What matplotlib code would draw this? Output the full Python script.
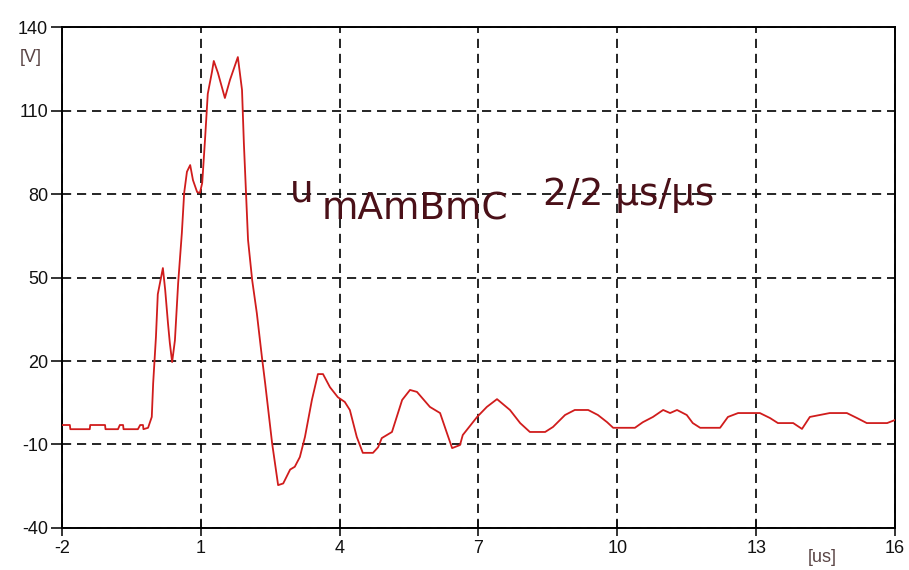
import matplotlib
matplotlib.use("Agg")
import matplotlib.pyplot as plt

# time axis [us] and voltage [V]
time_us = [-2.0, -1.83, -1.82, -1.40, -1.39, -1.07, -1.06, -0.79, -0.75, -0.68, -0.67,
           -0.36, -0.31, -0.25, -0.24, -0.14, -0.06, -0.03, 0.03, 0.07, 0.18, 0.23,
           0.29, 0.33, 0.38, 0.44, 0.51, 0.59, 0.64, 0.70, 0.77, 0.83, 0.92, 0.98,
           1.03, 1.09, 1.15, 1.24, 1.28, 1.37, 1.52, 1.63, 1.80, 1.89, 1.93, 2.02,
           2.11, 2.21, 2.32, 2.39, 2.54, 2.67, 2.78, 2.93, 3.03, 3.14, 3.25, 3.40,
           3.53, 3.64, 3.79, 3.96, 4.11, 4.22, 4.37, 4.50, 4.72, 4.83, 4.91, 5.13,
           5.35, 5.52, 5.67, 5.95, 6.17, 6.32, 6.43, 6.60, 6.66, 6.97, 7.18, 7.40,
           7.68, 7.90, 8.11, 8.44, 8.61, 8.87, 9.08, 9.37, 9.58, 9.78, 9.91, 10.38,
           10.55, 10.77, 10.99, 11.14, 11.29, 11.50, 11.63, 11.79, 12.22, 12.39,
           12.61, 13.08, 13.30, 13.47, 13.80, 13.99, 14.16, 14.59, 14.96, 15.18,
           15.39, 15.83, 16.0]
voltage = [-3.0, -3.0, -4.5, -4.5, -3.0, -3.0, -4.5, -4.5, -3.0, -3.0, -4.5,
           -4.5, -3.0, -3.0, -4.5, -4.0, -0.1, 12.0, 28.6, 44.0, 53.4, 45.5,
           33.6, 26.5, 19.6, 27.4, 48.0, 66.0, 80.4, 88.0, 90.4, 85.0, 80.7, 80.4,
           84.0, 99.4, 116.0, 123.8, 127.8, 123.5, 114.5, 121.0, 129.2, 117.4, 98.3, 63.5,
           49.0, 37.2, 21.4, 12.0, -9.5, -24.6, -24.0, -19.0, -18.0, -14.5, -7.3, 6.0,
           15.3, 15.3, 10.6, 7.0, 5.3, 2.4, -7.3, -13.0, -13.0, -11.0, -7.7, -5.5,
           6.0, 9.6, 8.9, 3.5, 1.3, -6.0, -11.3, -10.2, -6.6, -0.1, 3.5, 6.3,
           2.4, -2.3, -5.5, -5.5, -3.7, 0.6, 2.4, 2.4, 0.6, -2.0, -4.0, -4.0,
           -2.0, -0.1, 2.4, 1.3, 2.4, 0.6, -2.3, -4.0, -4.0, -0.1,
           1.3, 1.3, -0.5, -2.3, -2.3, -4.4, -0.1, 1.3, 1.3, -0.5,
           -2.3, -2.3, -1.2]

x_ticks = [-2, 1, 4, 7, 10, 13, 16]
y_ticks = [-40, -10, 20, 50, 80, 110, 140]

plt.rcParams['font.family'] = ['Liberation Sans', 'DejaVu Sans']
plt.rcParams['axes.unicode_minus'] = False

fig = plt.figure(figsize=(9.09, 5.70), dpi=100)
ax = fig.add_axes([0.0682, 0.0737, 0.9164, 0.8789])

ax.plot(time_us, voltage, color='#d01c1c', lw=1.3, zorder=3)

ax.set_xlim(-2, 16)
ax.set_ylim(-40, 140)
ax.set_xticks(x_ticks)
ax.set_yticks(y_ticks)
ax.tick_params(labelsize=13, colors='#111111', width=1.2)
ax.tick_params(axis='y', direction='out', length=8, pad=2)
ax.tick_params(axis='x', direction='inout', length=12, pad=3)
ax.grid(True, color='black', lw=1.2, linestyle=(0, (5.5, 3.5)))
for sp in ax.spines.values():
    sp.set_linewidth(1.4)
    sp.set_color('black')

unit_col = '#5a4545'
fig.text(31 / 909, 1 - 57 / 570, '[V]', ha='center', va='center', fontsize=13, color=unit_col)
fig.text(822 / 909, 1 - 557 / 570, '[us]', ha='center', va='center', fontsize=13, color=unit_col)

txt_col = '#4a1018'
big = dict(transform=ax.transAxes, fontsize=27, color=txt_col, family='DejaVu Sans',
           ha='left', va='baseline', zorder=4)
ax.text(0.274, 0.651, 'u', **big)
ax.text(0.312, 0.615, 'mAmBmC', **big)
ax.text(0.577, 0.645, '2/2 \u00b5s/\u00b5s', **big)

fig.savefig('out.png', dpi=100, facecolor='white')
